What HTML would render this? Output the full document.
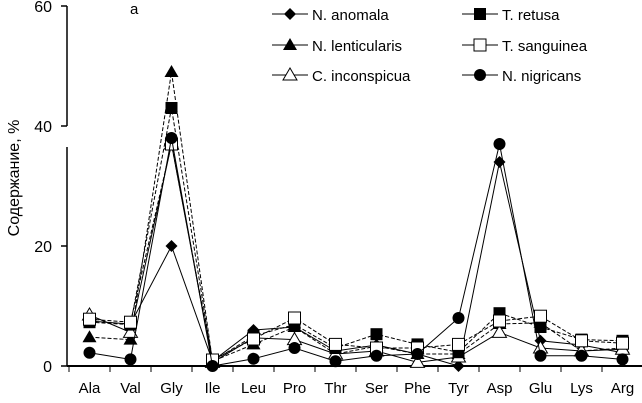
<!DOCTYPE html>
<html><head><meta charset="utf-8"><style>
html,body{margin:0;padding:0;background:#fff;}
svg{display:block;font-family:"Liberation Sans",Arial,sans-serif;}
</style></head><body>
<svg id="chart" width="642" height="403" viewBox="0 0 642 403">
<g id="axes"></g><g id="series"></g><g id="legend"></g>
</svg>
<script>
const categories=["Ala","Val","Gly","Ile","Leu","Pro","Thr","Ser","Phe","Tyr","Asp","Glu","Lys","Arg"];
const seriesNames=["N. anomala","N. lenticularis","C. inconspicua","T. retusa","T. sanguinea","N. nigricans"];
const anomala=[7.5,7,20,0.8,6,6.5,2.5,3.5,2,0,34,4.2,3.5,2.2];
const lenticularis=[4.8,4.4,49,0.8,3.6,6.5,2,3.3,2,2,7,7.2,2.5,3];
const inconspicua=[8.5,5.6,37,0.6,4.7,4.4,2,2.5,0.6,1.5,5.6,3,2.5,2.8];
const retusa=[7.3,6.9,43,0.8,5,6.9,3,5.3,3.6,2.3,8.8,6.5,4.4,4.2];
const sanguinea=[7.8,7.3,37,1,4.5,8,3.6,3,3,3.6,7.5,8.3,4.2,3.8];
const nigricans=[2.2,1.1,38,0,1.2,3,0.8,1.7,2,8,37,1.7,1.7,1.1];
const yTicks=[0,20,40,60];
const NS="http://www.w3.org/2000/svg";
function mk(t,a,p){const e=document.createElementNS(NS,t);for(const k in a)e.setAttribute(k,a[k]);p.appendChild(e);return e;}
const x0=69,step=41,y0=366,ppu=6;
const xS=i=>x0+step*(i+0.5);
const yS=v=>y0-v*ppu;
const ax=document.getElementById('axes');
let l=mk('line',{x1:x0-2,y1:y0,x2:642,y2:y0,stroke:'#000','stroke-width':2},ax);


l=mk('line',{x1:x0-2,y1:yS(60),x2:x0-2,y2:yS(40),stroke:'#000','stroke-width':1.5},ax);


l=mk('line',{x1:x0-2,y1:yS(36.5),x2:x0-2,y2:y0,stroke:'#000','stroke-width':1.5},ax);


for(let i=0;i<=categories.length;i++){
 const t=mk('line',{x1:x0+step*i,y1:y0,x2:x0+step*i,y2:y0+6,stroke:'#000','stroke-width':1},ax);
 
 
}
categories.forEach((c,i)=>{
 const t=mk('text',{x:xS(i),y:393,'text-anchor':'middle','font-size':15},ax);t.textContent=c;
 
 
});
yTicks.forEach(v=>{
 const t=mk('line',{x1:x0-8,y1:yS(v),x2:x0-2,y2:yS(v),stroke:'#000','stroke-width':1.5},ax);
 
 
 const tx=mk('text',{x:52,y:yS(v)+6,'text-anchor':'end','font-size':16},ax);tx.textContent=v;
 
 
});
let tt=mk('text',{x:0,y:0,'text-anchor':'middle','font-size':16,transform:'translate(19,178) rotate(-90)'},ax);
tt.textContent='Содержание, %';


tt=mk('text',{x:130,y:14,'font-size':15},ax);tt.textContent='a';



function marker(type,x,y,p){
 let e;
 if(type==='diamond')e=mk('polygon',{points:`${x},${y-6} ${x+6},${y} ${x},${y+6} ${x-6},${y}`,fill:'#000'},p);
 else if(type==='tri')e=mk('polygon',{points:`${x},${y-7} ${x+7},${y+5} ${x-7},${y+5}`,fill:'#000'},p);
 else if(type==='otri')e=mk('polygon',{points:`${x},${y-7} ${x+7},${y+5} ${x-7},${y+5}`,fill:'#fff',stroke:'#000','stroke-width':1},p);
 else if(type==='sq')e=mk('rect',{x:x-6,y:y-6,width:12,height:12,fill:'#000'},p);
 else if(type==='osq')e=mk('rect',{x:x-6,y:y-6,width:12,height:12,fill:'#fff',stroke:'#000','stroke-width':1},p);
 else e=mk('circle',{cx:x,cy:y,r:6,fill:'#000'},p);
 return e;
}
const allSeries=[anomala,lenticularis,inconspicua,retusa,sanguinea,nigricans];
const types=['diamond','tri','otri','sq','osq','circle'];
const dashes=['','4,2','','4,2','4,2',''];
const sg=document.getElementById('series');
allSeries.forEach((vals,s)=>{
 const g=mk('g',{},sg);
 
 
 const pl=mk('polyline',{points:vals.map((v,i)=>xS(i)+','+yS(v)).join(' '),fill:'none',stroke:'#000','stroke-width':1,'stroke-dasharray':dashes[s]},g);
 
 
 vals.forEach((v,i)=>{
  const m=marker(types[s],xS(i),yS(v),g);
  
  
 });
});
const lg=document.getElementById('legend');
const legPos=[[290,14],[290,45],[290,75],[480,14],[480,45],[480,75]];
seriesNames.forEach((n,s)=>{
 const [lx,ly]=legPos[s];
 const g=mk('g',{},lg);
 
 
 mk('line',{x1:lx-18,y1:ly,x2:lx+18,y2:ly,stroke:'#000','stroke-width':1},g);
 marker(types[s],lx,ly,g);
 const t=mk('text',{x:lx+22,y:ly+6,'font-size':15},g);t.textContent=n;
});
</script>
</body></html>
